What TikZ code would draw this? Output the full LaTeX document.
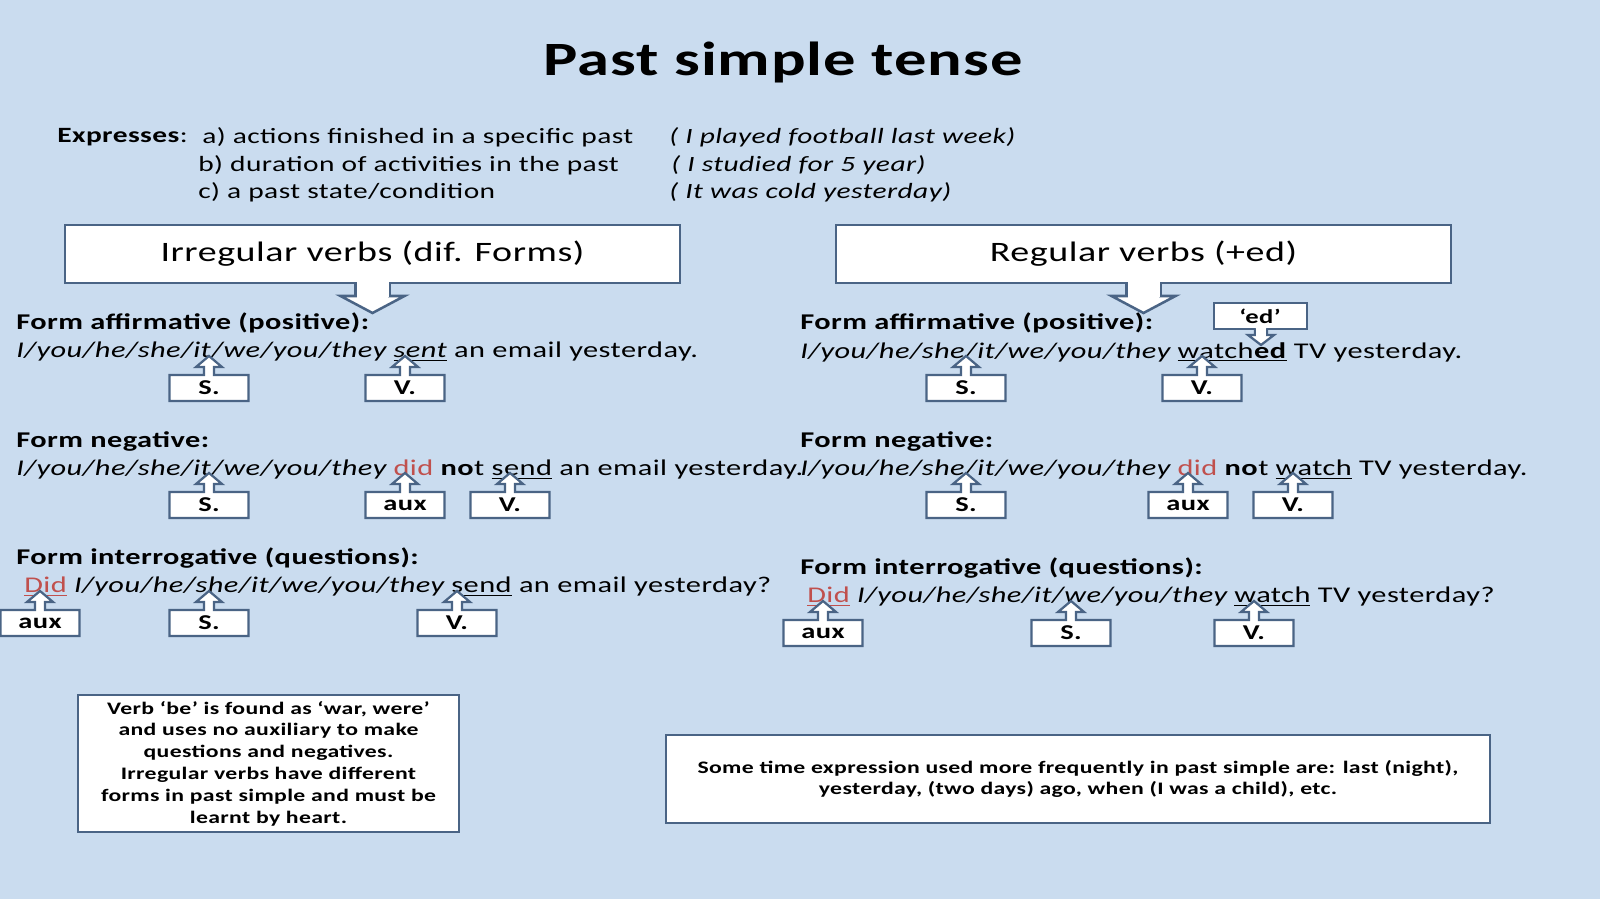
\documentclass[tikz,border=0pt]{standalone}
\usepackage{fontspec}
\setmainfont{Carlito}[FakeStretch=1.35,LetterSpace=2]
\usetikzlibrary{calc}
\definecolor{bg}{HTML}{CADCEF}
\definecolor{edge}{HTML}{4A6485}
\definecolor{red}{HTML}{C0504D}
\newcommand{\cb}[5]{% name, x, ytop, width, text
  \draw[edge,fill=white,line width=1.6pt]
   ({#2-#4/2},{#3}) -- ({#2-5},{#3}) -- ({#2-5},{#3-8}) -- ({#2-13},{#3-8}) -- ({#2},{#3-19}) -- ({#2+13},{#3-8}) -- ({#2+5},{#3-8}) -- ({#2+5},{#3}) -- ({#2+#4/2},{#3}) -- ({#2+#4/2},{#3+26}) -- ({#2-#4/2},{#3+26}) -- cycle;
  \node[font=\fontsize{15}{15}\selectfont\bfseries] (#1) at ({#2},{#3+13}) {#5};}
\newcommand{\bigbox}[4]{% name x1 x2 text
  \draw[edge,fill=white,line width=1.8pt]
   ({(#2+#3)/2-17},283) -- ({(#2+#3)/2-17},296) -- ({(#2+#3)/2-32},296) -- ({(#2+#3)/2},313) -- ({(#2+#3)/2+32},296) -- ({(#2+#3)/2+17},296) -- ({(#2+#3)/2+17},283);
  \node[draw=edge,fill=white,line width=1.8pt,minimum width={(#3-#2)*0.025cm},minimum height=58*0.025cm,font=\fontsize{20}{20}\selectfont] (#1) at ({(#2+#3)/2},254) {#4};
  \fill[white] ({(#2+#3)/2-16},281) rectangle ({(#2+#3)/2+16},297);}
\tikzset{x=0.025cm,y=-0.025cm,
 head/.style={anchor=west,font=\fontsize{16}{16}\selectfont\bfseries,inner sep=0},
 sent/.style={anchor=west,font=\fontsize{16}{16}\selectfont,inner sep=0},
 ex/.style={anchor=west,font=\fontsize{15.5}{15.5}\selectfont,inner sep=0}}
\begin{document}
\begin{tikzpicture}
\fill[bg] (0,0) rectangle (1600,899);
\useasboundingbox (0,0) rectangle (1600,899);
\node[font=\fontsize{34}{34}\selectfont\bfseries] (title) at (783,62) {Past simple tense};
\node[ex] (e0) at (57,137) {\textbf{Expresses}:};
\node[ex] (ea) at (202,137) {a) actions finished in a specific past};
\node[ex] (eb) at (198,165) {b) duration of activities in the past};
\node[ex] (ec) at (198,192) {c) a past state/condition};
\node[ex] (xa) at (669,137) {\itshape ( I played football last week)};
\node[ex] (xb) at (671,165) {\itshape ( I studied for 5 year)};
\node[ex] (xc) at (669,192) {\itshape ( It was cold yesterday)};
\bigbox{irr}{65}{680}{Irregular verbs (dif. Forms)}
\bigbox{reg}{836}{1451}{Regular verbs (+ed)}
% left
\node[head] (la) at (16,323) {Form affirmative (positive):};
\node[sent] (ls1) at (16,352) {\itshape I/you/he/she/it/we/you/they \underline{sent}\upshape\ an email yesterday.};
\cb{l1s}{209}{375}{79}{S.}
\cb{l1v}{405}{375}{79}{V.}
\node[head] (ln) at (16,441) {Form negative:};
\node[sent] (ls2) at (16,470) {\itshape I/you/he/she/it/we/you/they \upshape\textcolor{red}{did} \textbf{no}t \underline{send} an email yesterday.};
\cb{l2s}{209}{492}{79}{S.}
\cb{l2a}{405}{492}{79}{aux}
\cb{l2v}{510}{492}{79}{V.}
\node[head] (li) at (16,558) {Form interrogative (questions):};
\node[sent] (ls3) at (24,587) {\textcolor{red}{\underline{Did}} \itshape I/you/he/she/it/we/you/they \upshape\underline{send} an email yesterday?};
\cb{l3a}{40}{610}{79}{aux}
\cb{l3s}{209}{610}{79}{S.}
\cb{l3v}{457}{610}{79}{V.}
% right
\node[head] (ra) at (800,323) {Form affirmative (positive):};
\node[sent] (rs1) at (800,352) {\itshape I/you/he/she/it/we/you/they \upshape\underline{watch\textbf{ed}} TV yesterday.};
\draw[edge,fill=white,line width=1.6pt] (1214,303) rectangle (1307,329);
\draw[edge,fill=white,line width=1.6pt] (1255,329) -- (1255,335) -- (1248,335) -- (1261,345) -- (1274,335) -- (1267,335) -- (1267,329);
\fill[white] (1256,327) rectangle (1266,336);
\node[font=\fontsize{14}{14}\selectfont\bfseries] (ed) at (1260,316) {‘ed’};
\cb{r1s}{966}{375}{79}{S.}
\cb{r1v}{1202}{375}{79}{V.}
\node[head] (rn) at (800,441) {Form negative:};
\node[sent] (rs2) at (800,470) {\itshape I/you/he/she/it/we/you/they \upshape\textcolor{red}{did} \textbf{no}t \underline{watch} TV yesterday.};
\cb{r2s}{966}{492}{79}{S.}
\cb{r2a}{1188}{492}{79}{aux}
\cb{r2v}{1293}{492}{79}{V.}
\node[head] (ri) at (800,568) {Form interrogative (questions):};
\node[sent] (rs3) at (807,597) {\textcolor{red}{\underline{Did}} \itshape I/you/he/she/it/we/you/they \upshape\underline{watch} TV yesterday?};
\cb{r3a}{823}{620}{79}{aux}
\cb{r3s}{1071}{620}{79}{S.}
\cb{r3v}{1254}{620}{79}{V.}
% bottom
\node[draw=edge,fill=white,line width=1.8pt,minimum width=381*0.025cm,minimum height=137*0.025cm,align=center,font=\fontsize{12.5}{15.5}\selectfont\bfseries] (nb1) at (268.5,763.5) {Verb ‘be’ is found as ‘war, were’\\and uses no auxiliary to make\\questions and negatives.\\Irregular verbs have different\\forms in past simple and must be\\learnt by heart.};
\node[draw=edge,fill=white,line width=1.8pt,minimum width=824*0.025cm,minimum height=88*0.025cm,align=center,font=\fontsize{12.5}{15.5}\selectfont\bfseries] (nb2) at (1078,779) {Some time expression used more frequently in past simple are: last (night),\\yesterday, (two days) ago, when (I was a child), etc.};
\end{tikzpicture}
\end{document}
